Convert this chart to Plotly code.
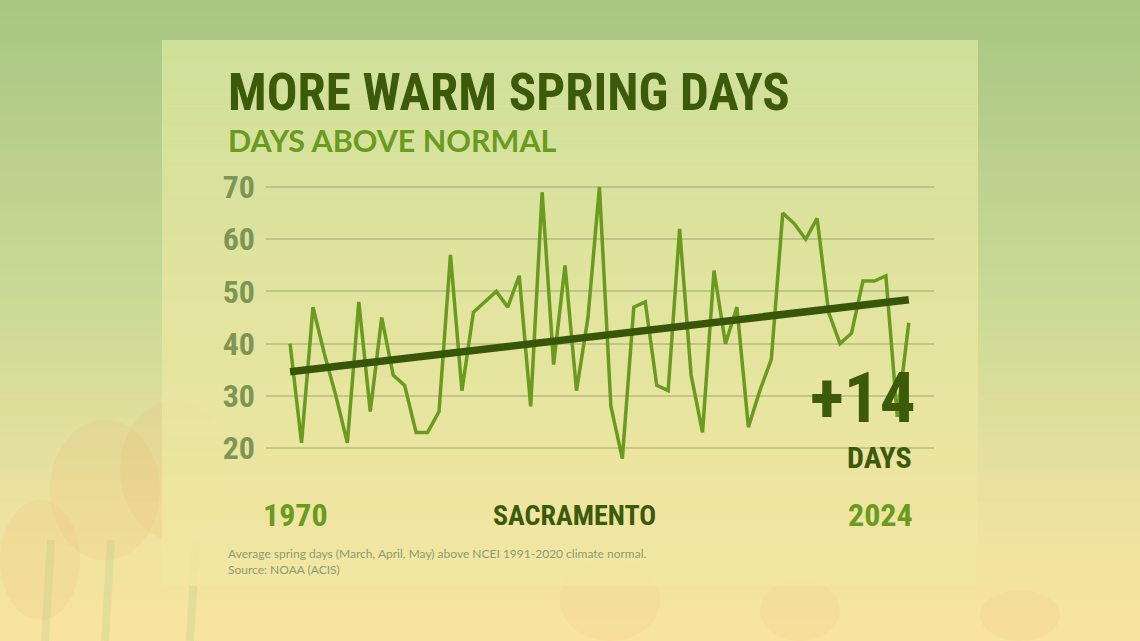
import plotly.graph_objects as go

# Sacramento: spring days above normal
years = list(range(1970, 2025))
days_above = [40, 21, 47, 38, 30, 21, 48, 27, 45, 34,
              32, 23, 23, 27, 57, 31, 46, 48, 50, 47,
              53, 28, 69, 36, 55, 31, 45, 70, 28, 18,
              47, 48, 32, 31, 62, 34, 23, 54, 40, 47,
              24, 31, 37, 65, 63, 60, 64, 46, 40, 42,
              52, 52, 53, 26, 44]
trend_years = [1970, 2024]
trend_vals = [34.6, 48.4]
y_ticks = [20, 30, 40, 50, 60, 70]

W, H = 1140, 641
L, R, T, B = 266, 934, 175, 470   # plot area in pixels

NARROW = "Roboto Condensed, Liberation Sans Narrow, DejaVu Sans Condensed, Roboto, sans-serif"
DARK = "#3b5a0a"
MID = "#6a9a1e"


def px(x):
    return (x - L) / (R - L)


def py(y):
    return (B - y) / (B - T)


def mix(c1, c2, t):
    a = [int(c1[i:i + 2], 16) for i in (1, 3, 5)]
    b = [int(c2[i:i + 2], 16) for i in (1, 3, 5)]
    return "rgb(%d,%d,%d)" % tuple(round(a[k] + (b[k] - a[k]) * t) for k in range(3))


def grad(stops, t):
    for i in range(len(stops) - 1):
        t0, c0 = stops[i]
        t1, c1 = stops[i + 1]
        if t <= t1:
            return mix(c0, c1, (t - t0) / (t1 - t0))
    return stops[-1][1]


shapes = []
# outer background gradient
outer = [(0, "#a8c682"), (0.45, "#c9d995"), (0.8, "#eee2a0"), (1, "#f8e4a0")]
n = 60
for i in range(n):
    y0 = H * i / n
    y1 = H * (i + 1) / n + 1
    shapes.append(dict(type="rect", xref="paper", yref="paper", layer="below",
                       x0=px(0), x1=px(W), y0=py(y0), y1=py(y1),
                       fillcolor=grad(outer, (i + 0.5) / n), line_width=0))

# faint tulip blobs
blobs = [(50, 420, 160, 560, "#f0b070"), (120, 400, 230, 540, "#f2b474"),
         (0, 500, 80, 620, "#eeb070"), (560, 560, 660, 641, "#f2c080"),
         (760, 580, 840, 641, "#f2c080"), (980, 590, 1060, 641, "#f2b878")]
for x0, y0, x1, y1, c in blobs:
    shapes.append(dict(type="circle", xref="paper", yref="paper", layer="below",
                       x0=px(x0), x1=px(x1), y0=py(y1), y1=py(y0),
                       fillcolor=c, opacity=0.14, line_width=0))
for sx in (45, 105, 190):
    shapes.append(dict(type="line", xref="paper", yref="paper", layer="below",
                       x0=px(sx), x1=px(sx + 6), y0=py(641), y1=py(540),
                       line=dict(color="#b8d088", width=8), opacity=0.3))

# inner panel gradient
panel = [(0, "#d3e29b"), (0.5, "#e4e4a0"), (1, "#f2e6a2")]
P0, P1, PT, PB = 162, 978, 40, 585
m = 50
for i in range(m):
    y0 = PT + (PB - PT) * i / m
    y1 = PT + (PB - PT) * (i + 1) / m + 0.8
    shapes.append(dict(type="rect", xref="paper", yref="paper", layer="below",
                       x0=px(P0), x1=px(P1), y0=py(y0), y1=py(y1),
                       fillcolor=grad(panel, (i + 0.5) / m), line_width=0,
                       opacity=0.9))

fig = go.Figure()
fig.add_trace(go.Scatter(x=years, y=days_above, mode="lines",
                         line=dict(color="#6a9a1e", width=3.5),
                         hoverinfo="x+y", showlegend=False))
fig.add_trace(go.Scatter(x=trend_years, y=trend_vals, mode="lines",
                         line=dict(color="#375609", width=7.5),
                         hoverinfo="skip", showlegend=False))

ann = [
    dict(text="MORE WARM SPRING DAYS", x=px(226), y=py(93), xanchor="left", yanchor="middle",
         font=dict(family=NARROW, size=51, color=DARK, weight="bold")),
    dict(text="DAYS ABOVE NORMAL", x=px(226), y=py(140), xanchor="left", yanchor="middle",
         font=dict(family="Lato, sans-serif", size=30.5, color=MID, weight="bold")),
    dict(text="1970", x=px(295), y=py(515), xanchor="center", yanchor="middle",
         font=dict(family=NARROW, size=32, color=MID, weight="bold")),
    dict(text="SACRAMENTO", x=px(574), y=py(515), xanchor="center", yanchor="middle",
         font=dict(family=NARROW, size=28, color=DARK, weight="bold")),
    dict(text="2024", x=px(880), y=py(515), xanchor="center", yanchor="middle",
         font=dict(family=NARROW, size=32, color=MID, weight="bold")),
    dict(text="+14", x=px(918), y=py(397), xanchor="right", yanchor="middle",
         font=dict(family=NARROW, size=71, color=DARK, weight="bold")),
    dict(text="DAYS", x=px(914), y=py(457), xanchor="right", yanchor="middle",
         font=dict(family=NARROW, size=30, color=DARK, weight="bold")),
    dict(text="Average spring days (March, April, May) above NCEI 1991-2020 climate normal.<br>"
              "Source: NOAA (ACIS)",
         x=px(226), y=py(544), xanchor="left", yanchor="top", align="left",
         font=dict(family="Lato, sans-serif", size=12, color="#8c9a72")),
]
for a in ann:
    a.update(xref="paper", yref="paper", showarrow=False)

fig.update_layout(
    width=W, height=H,
    margin=dict(l=L, r=W - R, t=T, b=H - B, pad=0),
    paper_bgcolor="#d0dc98",
    plot_bgcolor="rgba(0,0,0,0)",
    shapes=shapes,
    annotations=ann,
    xaxis=dict(range=[1967.9, 2026.2], visible=False, fixedrange=True),
    yaxis=dict(range=[15.8, 72.3], tickvals=y_ticks, showgrid=True,
               gridcolor="rgba(150,160,110,0.45)", gridwidth=1.5,
               zeroline=False, showline=False, ticks="",
               ticklabelstandoff=10,
               tickfont=dict(family=NARROW, size=32, color="#7d9656", weight="bold"),
               fixedrange=True),
)

fig.write_html("out.html", config={"displayModeBar": False},
               post_script="document.body.style.margin='0';")
